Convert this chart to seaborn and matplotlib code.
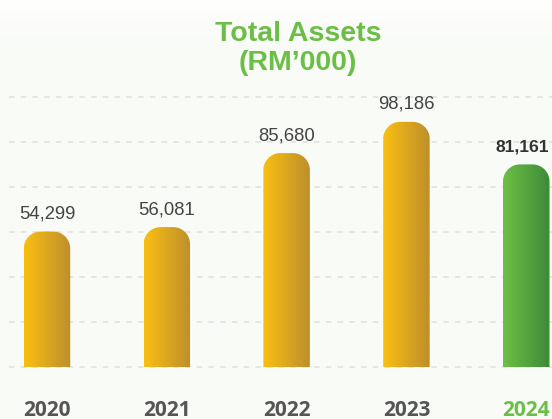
import numpy as np
import pandas as pd
import seaborn as sns
import matplotlib.pyplot as plt
from matplotlib.path import Path
from matplotlib.patches import PathPatch
from matplotlib.colors import LinearSegmentedColormap
from matplotlib.transforms import blended_transform_factory

# data
years = ['2020', '2021', '2022', '2023', '2024']
total_assets = [54299, 56081, 85680, 98186, 81161]
highlight_year = '2024'
title_lines = ['Total Assets', '(RM\u2019000)']

df = pd.DataFrame({'Year': years, 'Total Assets': total_assets})

sns.set_theme(style='white')
plt.rcParams['font.family'] = ['Liberation Sans', 'DejaVu Sans']

GREEN = '#6cbf46'
yellow_cmap = LinearSegmentedColormap.from_list('yel', ['#fbbf12', '#bc8f2c'])
green_cmap = LinearSegmentedColormap.from_list('grn', ['#6dc046', '#3d8a38'])

fig = plt.figure(figsize=(5.52, 4.19), dpi=100)

# faint background wash, white at the very top
bg = fig.add_axes([0, 0, 1, 1], zorder=-10)
yy = np.clip(np.linspace(0, 1, 200) / 0.12, 0, 1).reshape(-1, 1)
bg.imshow(yy, cmap=LinearSegmentedColormap.from_list('bg', ['#ffffff', '#f9fbf7']),
          aspect='auto', extent=[0, 1, 0, 1])
bg.axis('off')

ax = fig.add_axes([9 / 552, 49.2 / 419, 543 / 552, 290 / 419])
ax.patch.set_alpha(0)
sns.barplot(data=df, x='Year', y='Total Assets', width=0.388, color='#f0b820',
            errorbar=None, ax=ax)

ax.set_xlim(-0.317, 4.215)
ax.set_ylim(-1000, 115000)
ax.set_yticks(np.arange(0, 108001, 18000))
ax.yaxis.grid(True, linestyle=(0, (3, 3.5)), color='#e3e3e3', linewidth=1.3)
ax.set_axisbelow(True)
ax.tick_params(left=False, bottom=False, labelleft=False, labelbottom=False)
ax.set_xlabel('')
ax.set_ylabel('')
sns.despine(ax=ax, left=True, bottom=True)

# pixels per data unit, for the rounded tops
px_x = 543 / (4.215 + 0.317)
px_y = 290 / 116000
radius = 17

gradient = np.linspace(0, 1, 256).reshape(1, -1)
for i, bar in enumerate(ax.patches):
    x0, w, h = bar.get_x(), bar.get_width(), bar.get_height()
    bar.set_visible(False)
    rx, ry = radius / px_x, radius / px_y
    a1 = np.linspace(np.pi, np.pi / 2, 24)
    a2 = np.linspace(np.pi / 2, 0, 24)
    verts = [(x0, 0)]
    verts += [(x0 + rx + rx * np.cos(a), h - ry + ry * np.sin(a)) for a in a1]
    verts += [(x0 + w - rx + rx * np.cos(a), h - ry + ry * np.sin(a)) for a in a2]
    verts += [(x0 + w, 0), (x0, 0)]
    clip = PathPatch(Path(verts), transform=ax.transData, facecolor='none',
                     edgecolor='none')
    ax.add_patch(clip)
    cmap = green_cmap if years[i] == highlight_year else yellow_cmap
    im = ax.imshow(gradient, cmap=cmap, extent=[x0, x0 + w, 0, h], aspect='auto', zorder=2)
    im.set_clip_path(clip)

    v = total_assets[i]
    bold = years[i] == highlight_year
    ax.annotate(f'{v:,}', (i, v), xytext=(-3 if bold else 0, 9.4),
                textcoords='offset points', ha='center', va='baseline',
                fontsize=12.6 if bold else 13.3,
                fontweight='bold' if bold else 'normal',
                color='#333333' if bold else '#444444')

ax.set_xlim(-0.317, 4.215)
ax.set_ylim(-1000, 115000)

# year labels under the bars
trans = blended_transform_factory(ax.transData, fig.transFigure)
for i, yr in enumerate(years):
    ax.text(i, 1 - 415.5 / 419, yr, transform=trans, ha='center', va='baseline',
            fontsize=15, fontweight='bold', family=['Open Sans', 'DejaVu Sans'],
            color=GREEN if yr == highlight_year else '#555555', clip_on=False)

# two-line title
title_font = ['Liberation Sans Narrow', 'Liberation Sans', 'DejaVu Sans']
fig.text(298 / 552, 1 - 41 / 419, title_lines[0], ha='center', va='baseline',
         fontsize=20.5, fontweight='bold', family=title_font, color=GREEN)
fig.text(298 / 552, 1 - 70 / 419, title_lines[1], ha='center', va='baseline',
         fontsize=20.5, fontweight='bold', family=title_font, color=GREEN)

fig.savefig('out.png', dpi=100)
